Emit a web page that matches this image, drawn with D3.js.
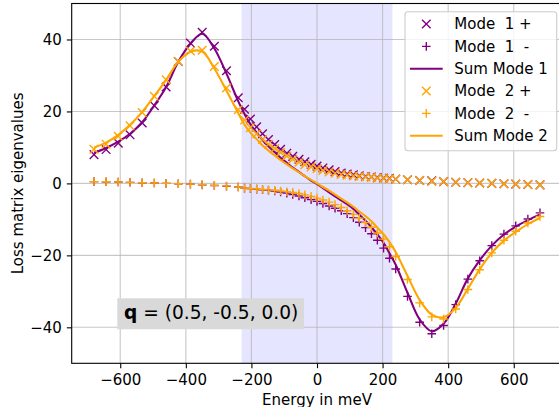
<!DOCTYPE html>
<html><head><meta charset="utf-8">
<script src="https://cdn.jsdelivr.net/npm/d3@7"></script>
<style>
html,body{margin:0;padding:0;background:#fff;}
svg{display:block;font-family:"DejaVu Sans",sans-serif;}
</style></head>
<body><svg id="c" width="559" height="407"></svg>
<script>
const energies = [-680,-643,-606,-570,-533,-496,-460,-423,-386,-350,-313,-276,-240,
 -221,-203,-184,-166,-148,-129,-111,-92,-74,-55,-37,-18,0,18,37,55,74,92,111,129,148,166,184,203,221,
 240,276,313,350,386,423,460,496,533,570,606,643,680];
const mode1Plus = [8.0,9.4,11.2,13.5,16.8,21.6,26.8,33.9,39.0,42.0,38.1,31.3,23.8,
 20.6,17.9,15.7,13.8,12.2,10.8,9.5,8.4,7.5,6.7,6.0,5.3,4.8,4.3,3.8,3.3,2.9,2.6,2.4,2.1,1.9,1.8,1.6,1.5,1.4,
 1.2,1.0,0.8,0.7,0.5,0.3,0.2,0.1,0.0,-0.1,-0.2,-0.3,-0.4];
const mode1Minus = [0.5,0.45,0.4,0.3,0.2,0.1,0.0,-0.1,-0.2,-0.4,-0.6,-0.8,-1.0,
 -1.3,-1.45,-1.6,-1.75,-1.9,-2.1,-2.4,-2.7,-3.1,-3.5,-4.0,-4.5,-5.0,-5.6,-6.3,-6.9,-7.6,-8.4,-9.5,-10.8,-12.3,-14.0,-15.8,-18.0,-20.8,
 -23.8,-31.4,-38.6,-41.8,-39.5,-33.7,-26.6,-21.5,-17.3,-14.1,-11.8,-9.9,-8.2];
const mode2Plus = [9.5,10.9,13.1,16.0,19.7,24.2,28.8,33.9,36.8,37.0,32.5,26.5,20.5,
 17.6,15.5,13.8,12.2,10.9,9.7,8.6,7.6,6.7,5.9,5.2,4.6,4.1,3.6,3.2,2.8,2.5,2.3,2.1,1.9,1.8,1.7,1.5,1.4,1.3,
 1.2,1.0,0.8,0.6,0.5,0.3,0.2,0.1,0.0,-0.1,-0.2,-0.3,-0.4];
const mode2Minus = [0.5,0.45,0.4,0.3,0.2,0.1,0.0,-0.1,-0.2,-0.35,-0.55,-0.75,-1.0,
 -1.3,-1.4,-1.5,-1.7,-1.8,-1.9,-2.1,-2.3,-2.5,-2.8,-3.2,-3.6,-4.1,-4.6,-5.2,-5.9,-6.7,-7.6,-8.6,-9.7,-10.9,-12.2,-13.8,-15.5,-17.6,
 -20.3,-26.7,-33.2,-37.1,-37.7,-34.9,-29.5,-24.0,-19.3,-15.8,-13.3,-11.0,-9.2];
const xTicks = [-600,-400,-200,0,200,400,600];
const yTicks = [-40,-20,0,20,40];
const spanRange = [-230,230];
const legendLabels = ["Mode  1 +","Mode  1  -","Sum Mode 1","Mode  2 +","Mode  2  -","Sum Mode 2"];
const qLabelBold = "q";
const qLabelRest = " = (0.5, -0.5, 0.0)";
const xLabel = "Energy in meV";
const yLabel = "Loss matrix eigenvalues";

const PURPLE = "#800080", ORANGE = "#ffa500";
const svg = d3.select("#c");
const L = 71.7, R = 562.3, T = 3.5, B = 363.3;
const x = d3.scaleLinear().domain([-748,748]).range([L,R]);
const y = d3.scaleLinear().domain([-50,50]).range([B,T]);
const fmt = d => d < 0 ? "\u2212" + Math.abs(d) : String(d);

svg.append("defs").append("clipPath").attr("id","clip")
  .append("rect").attr("x",L).attr("y",T).attr("width",R-L).attr("height",B-T);

const plot = svg.append("g").attr("clip-path","url(#clip)");
plot.append("rect").attr("x",x(spanRange[0])).attr("y",T)
  .attr("width",x(spanRange[1])-x(spanRange[0])).attr("height",B-T)
  .attr("fill","blue").attr("fill-opacity",0.1);
plot.selectAll(".gx").data(xTicks).join("line")
  .attr("x1",d=>x(d)).attr("x2",d=>x(d)).attr("y1",T).attr("y2",B)
  .attr("stroke","#b0b0b0").attr("stroke-opacity",0.7).attr("stroke-width",1.1);
plot.selectAll(".gy").data(yTicks).join("line")
  .attr("y1",d=>y(d)).attr("y2",d=>y(d)).attr("x1",L).attr("x2",R)
  .attr("stroke","#b0b0b0").attr("stroke-opacity",0.7).attr("stroke-width",1.1);

const s = 4.3;
const xPath = `M${-s},${-s}L${s},${s}M${-s},${s}L${s},${-s}`;
const pPath = `M${-s},0L${s},0M0,${-s}L0,${s}`;
function markers(vals, path, color){
  plot.append("g").selectAll("path").data(vals).join("path")
    .attr("transform",(d,i)=>`translate(${x(energies[i])},${y(d)})`)
    .attr("d",path).attr("fill","none").attr("stroke",color).attr("stroke-width",1.39);
}
const line = d3.line().x(d=>x(d[0])).y(d=>y(d[1])).curve(d3.curveCatmullRom.alpha(0.5));
function sumLine(a,b,color){
  const pts = energies.map((e,i)=>[e,a[i]+b[i]]);
  plot.append("path").attr("d",line(pts)).attr("fill","none").attr("stroke",color).attr("stroke-width",2.08);
}
markers(mode1Plus,xPath,PURPLE);
markers(mode1Minus,pPath,PURPLE);
sumLine(mode1Plus,mode1Minus,PURPLE);
markers(mode2Plus,xPath,ORANGE);
markers(mode2Minus,pPath,ORANGE);
sumLine(mode2Plus,mode2Minus,ORANGE);

const fs = 15;
const xa = svg.append("g").attr("transform",`translate(0,${B})`)
  .call(d3.axisBottom(x).tickValues(xTicks).tickFormat(fmt).tickSize(4.86).tickSizeOuter(0));
xa.select(".domain").remove();
xa.selectAll("line").attr("stroke","#000").attr("stroke-width",1.1);
xa.selectAll("text").attr("y",21.9).attr("dy",0).attr("font-size",fs).attr("font-family","DejaVu Sans").attr("fill","#000");
const ya = svg.append("g").attr("transform",`translate(${L},0)`)
  .call(d3.axisLeft(y).tickValues(yTicks).tickFormat(fmt).tickSize(4.86).tickSizeOuter(0));
ya.select(".domain").remove();
ya.selectAll("line").attr("stroke","#000").attr("stroke-width",1.1);
ya.selectAll("text").attr("x",-9.9).attr("dy","0.36em").attr("font-size",fs).attr("font-family","DejaVu Sans").attr("fill","#000");
svg.append("rect").attr("x",L).attr("y",T).attr("width",R-L).attr("height",B-T)
  .attr("fill","none").attr("stroke","#000").attr("stroke-width",1.1);

svg.append("text").attr("x",(L+R)/2).attr("y",404.5).attr("text-anchor","middle")
  .attr("font-size",fs).text(xLabel);
svg.append("text").attr("transform",`translate(23,${(T+B)/2}) rotate(-90)`).attr("text-anchor","middle")
  .attr("font-size",fs).text(yLabel);

svg.append("rect").attr("x",117.3).attr("y",298.3).attr("width",186.7).attr("height",31)
  .attr("fill","#d9d9d9");
const qt = svg.append("text").attr("x",124).attr("y",319.3).attr("font-size",18.6);
qt.append("tspan").attr("font-weight","bold").text(qLabelBold);
qt.append("tspan").attr("xml:space","preserve").text(qLabelRest);

const lg = svg.append("g");
lg.append("rect").attr("x",405).attr("y",11.7).attr("width",151.7).attr("height",139).attr("rx",3)
  .attr("fill","#fff").attr("fill-opacity",0.8).attr("stroke","#cccccc").attr("stroke-width",1.1);
const kinds = [["x",PURPLE],["p",PURPLE],["l",PURPLE],["x",ORANGE],["p",ORANGE],["l",ORANGE]];
legendLabels.forEach((lab,i)=>{
  const cy = 24 + i*22.35;
  const [k,c] = kinds[i];
  if (k==="l") lg.append("line").attr("x1",410).attr("x2",442.7).attr("y1",cy).attr("y2",cy).attr("stroke",c).attr("stroke-width",2.08);
  else lg.append("path").attr("transform",`translate(426.3,${cy})`).attr("d",k==="x"?xPath:pPath)
    .attr("fill","none").attr("stroke",c).attr("stroke-width",1.39);
  lg.append("text").attr("x",454.3).attr("y",cy).attr("dy","0.36em").attr("font-size",fs)
    .attr("xml:space","preserve").style("white-space","pre").text(lab);
});
</script></body></html>
